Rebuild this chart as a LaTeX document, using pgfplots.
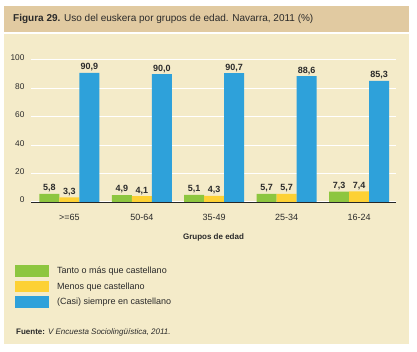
\documentclass[border=0pt]{standalone}
\usepackage{fontspec}
\setmainfont{Liberation Sans}
\usepackage{pgfplots}
\pgfplotsset{compat=1.18}
\definecolor{hdr}{HTML}{E1CAA1}
\definecolor{panel}{HTML}{F4EBC9}
\definecolor{cgreen}{HTML}{8DC63F}
\definecolor{cyellow}{HTML}{FDD134}
\definecolor{cblue}{HTML}{2EA1DA}
\definecolor{txt}{HTML}{2A2A2A}
\begin{document}
\begin{tikzpicture}
\path[use as bounding box] (0bp,0bp) rectangle (417bp,352bp);
\fill[white] (0bp,0bp) rectangle (417bp,352bp);
\fill[hdr] (4bp,320.3bp) rectangle (409bp,346bp);
\fill[panel] (4bp,8bp) rectangle (409bp,318.3bp);
\node[anchor=west, text=txt, font=\fontsize{10bp}{12bp}\selectfont, inner sep=0pt] at (13bp,333bp) {\textbf{Figura 29.} Uso del euskera por grupos de edad. Navarra, 2011 (\%)};
\begin{axis}[
  at={(31bp,150bp)}, anchor=south west,
  scale only axis, width=365bp, height=142bp,
  ybar=0pt, bar width=20bp,
  ymin=0, ymax=100, ytick={0,20,40,60,80,100},
  xmin=-0.53, xmax=4.51, xtick={0,1,2,3,4},
  xticklabels={>=65,50-64,35-49,25-34,16-24},
  axis x line*=bottom, axis y line*=left,
  y axis line style={draw=none},
  x axis line style={-, black!85, line width=0.8bp},
  major tick length=0pt,
  ymajorgrids, grid style={white, line width=1bp},
  /pgf/number format/assume math mode=true,
  tick label style={text=txt},
  yticklabel style={xshift=-3bp, yshift=2bp, font=\fontsize{8.3bp}{9bp}\selectfont},
  xticklabel style={yshift=-9bp, font=\fontsize{9bp}{10bp}\selectfont},
  xlabel={Grupos de edad},
  xlabel style={at={(axis description cs:0.5,-0.2465)}, anchor=center, font=\bfseries\fontsize{8bp}{9bp}\selectfont, text=txt},
  nodes near coords,
  nodes near coords style={font=\bfseries\fontsize{9bp}{10bp}\selectfont, text=txt, anchor=south, inner sep=1.5bp,
    /pgf/number format/.cd, use comma, fixed, fixed zerofill, precision=1},
  legend style={at={(axis description cs:-0.0438,-0.4437)}, anchor=north west, draw=none, fill=none, inner sep=0pt,
    font=\fontsize{9bp}{10bp}\selectfont, text=txt, cells={anchor=west}, row sep=3.3bp,
    /tikz/every odd column/.append style={column sep=6bp}},
  legend image code/.code={\fill[#1] (0bp,-5.8bp) rectangle (34bp,5.8bp);},
]
\addplot[fill=cgreen, draw=none] coordinates {(0,5.8) (1,4.9) (2,5.1) (3,5.7) (4,7.3)};
\addplot[fill=cyellow, draw=none] coordinates {(0,3.3) (1,4.1) (2,4.3) (3,5.7) (4,7.4)};
\addplot[fill=cblue, draw=none] coordinates {(0,90.9) (1,90.0) (2,90.7) (3,88.6) (4,85.3)};
\legend{Tanto o más que castellano, Menos que castellano, (Casi) siempre en castellano}
\end{axis}
\node[anchor=west, text=txt, font=\fontsize{8bp}{9bp}\selectfont, inner sep=0pt] at (16bp,20bp) {\textbf{Fuente:} \textit{V Encuesta Sociolingüística, 2011.}};
\end{tikzpicture}
\end{document}
